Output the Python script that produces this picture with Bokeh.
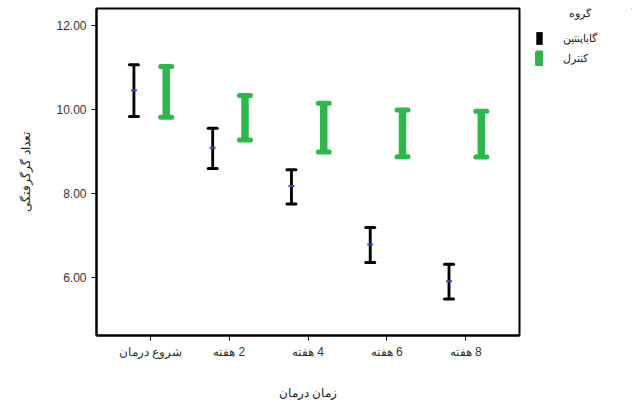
from bokeh.plotting import figure
from bokeh.layouts import row
from bokeh.core.properties import value
from bokeh.models import (ColumnDataSource, FactorRange, Range1d, FixedTicker,
                          NumeralTickFormatter, Legend, LegendItem)
from bokeh.transform import dodge
from bokeh.embed import file_html
from bokeh.resources import INLINE

# ---- data ----
categories = ["شروع درمان", "\u200f2 هفته", "\u200f4 هفته", "\u200f6 هفته", "\u200f8 هفته"]
group_names = ["گاباپنتین", "کنترل"]
gaba_mean = [10.45, 9.08, 8.17, 6.78, 5.90]
gaba_low = [9.83, 8.59, 7.74, 6.35, 5.48]
gaba_high = [11.06, 9.55, 8.56, 7.18, 6.31]
ctrl_mean = [10.42, 9.80, 9.55, 9.42, 9.40]
ctrl_low = [9.81, 9.27, 8.98, 8.87, 8.86]
ctrl_high = [11.02, 10.33, 10.14, 9.98, 9.95]
y_ticks = [6, 8, 10, 12]

title_legend = "گروه"
x_title = "زمان درمان"
y_title = "تعداد گرگرفتگی"

GREEN = "#2db84c"
BLUE = "#3050c8"
FONT = "Liberation Sans"

gaba = ColumnDataSource(dict(cat=categories, mean=gaba_mean, low=gaba_low, high=gaba_high))
ctrl = ColumnDataSource(dict(cat=categories, mean=ctrl_mean, low=ctrl_low, high=ctrl_high))

p = figure(width=527, height=402,
           x_range=FactorRange(factors=categories, range_padding=0.074),
           y_range=Range1d(4.61, 12.4),
           output_backend="svg", toolbar_location=None,
           min_border_left=96, min_border_top=8, min_border_right=8, min_border_bottom=64)

p.xgrid.visible = False
p.ygrid.visible = False
p.outline_line_color = "black"
p.outline_line_width = 2
p.background_fill_color = "white"
p.border_fill_color = "white"

# axes
for ax in (p.xaxis[0], p.yaxis[0]):
    ax.axis_line_color = "black"
    ax.axis_line_width = 2
    ax.major_tick_line_color = "black"
    ax.major_tick_out = 5
    ax.major_tick_in = 0
    ax.minor_tick_line_color = None
    ax.major_label_text_font = FONT
    ax.major_label_text_font_size = "12px"
    ax.major_label_text_color = "#333333"
    ax.axis_label_text_font = FONT
    ax.axis_label_text_font_size = "12px"
    ax.axis_label_text_font_style = "normal"
    ax.axis_label_text_color = "#222222"

p.yaxis.ticker = FixedTicker(ticks=y_ticks)
p.yaxis.formatter = NumeralTickFormatter(format="0.00")
p.yaxis.axis_label = y_title
p.yaxis.axis_label_standoff = 20
p.xaxis.axis_label = x_title
p.xaxis.axis_label_standoff = 24
p.xaxis.major_label_standoff = 4

xg = dodge("cat", -0.21, range=p.x_range)
xc = dodge("cat", 0.20, range=p.x_range)

# control group (green, thick)
p.scatter(x=xc, y="mean", source=ctrl, marker="dash", size=6, line_width=2, line_color=BLUE)
p.vbar(x=xc, bottom="low", top="high", width=0.095, source=ctrl,
       fill_color=GREEN, line_color=None)
for fld in ("low", "high"):
    p.scatter(x=xc, y=fld, source=ctrl, marker="dash", size=11, line_width=5,
              line_color=GREEN, line_cap="round")

# gabapentin group (black, thin)
p.vbar(x=xg, bottom="low", top="high", width=0.036, source=gaba,
       fill_color="black", line_color=None)
for fld in ("low", "high"):
    p.scatter(x=xg, y=fld, source=gaba, marker="dash", size=9, line_width=3,
              line_color="black", line_cap="round")
p.scatter(x=xg, y="mean", source=gaba, marker="dash", size=6, line_width=2, line_color=BLUE)

# ---- legend panel (separate small figure to the right) ----
lg = figure(width=105, height=402, x_range=Range1d(0, 1), y_range=Range1d(0, 1),
            output_backend="svg", toolbar_location=None,
            min_border=0, x_axis_location=None, y_axis_location=None)
lg.outline_line_color = None
lg.xgrid.visible = False
lg.ygrid.visible = False

lg.text(x=[0.5], y=[0.985], text=[title_legend], text_font=value(FONT),
        text_font_size="11px", text_align="center", text_baseline="middle",
        text_color="#222222")

# legend swatches: one off-screen sample each so the legend draws its glyph
leg_g = lg.vbar(x=[5], bottom=[5], top=[6], width=0.1, fill_color="black", line_color=None)
leg_c = lg.vbar(x=[5], bottom=[5], top=[6], width=0.1, fill_color=GREEN,
                line_color=GREEN, line_width=3)

legend = Legend(items=[LegendItem(label=group_names[0], renderers=[leg_g]),
                       LegendItem(label=group_names[1], renderers=[leg_c])],
                location=(8, 269))
legend.glyph_width = 8
legend.glyph_height = 16
legend.label_standoff = 20
legend.spacing = 4
legend.padding = 3
legend.margin = 0
legend.border_line_color = None
legend.background_fill_alpha = 0
legend.label_text_font = FONT
legend.label_text_font_size = "11px"
legend.label_text_color = "#222222"
lg.add_layout(legend)

open("out.html", "w").write(file_html(row(p, lg), INLINE))
